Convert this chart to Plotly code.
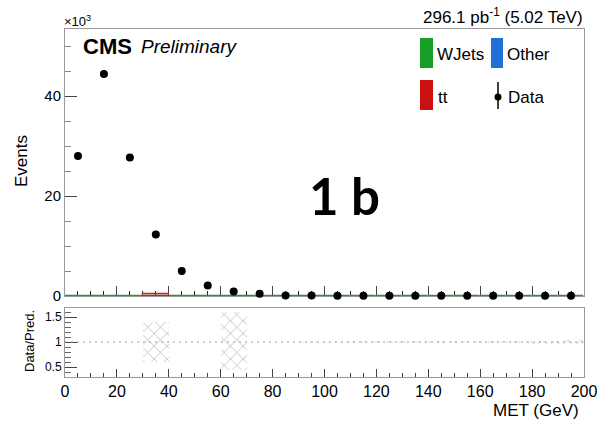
import plotly.graph_objects as go

W, H = 597, 426

# ---------------- data (values in units of 10^3 events) ----------------
bin_centers = [5, 15, 25, 35, 45, 55, 65, 75, 85, 95, 105, 115, 125, 135, 145, 155, 165, 175, 185, 195]
data_k = [28.0, 44.4, 27.7, 12.3, 5.0, 2.1, 0.9, 0.45, 0.12, 0.1, 0.05, 0.05, 0.05, 0.05, 0.05, 0.05, 0.05, 0.05, 0.05, 0.05]
wjets_k = [0.1] * 20
tt_k = [0, 0, 0, 0.35, 0, 0, 0, 0, 0, 0, 0, 0, 0, 0, 0, 0, 0, 0, 0, 0]
other_k = [0.0] * 20
ratio_center = [1.0] * 20
band_lo = [0.995, 0.995, 0.995, 0.6, 0.995, 0.995, 0.44, 0.995, 0.995, 0.99, 0.99, 0.988, 0.987, 0.985, 0.984, 0.982, 0.98, 0.975, 0.97, 0.96]
band_hi = [1.005, 1.005, 1.005, 1.4, 1.005, 1.005, 1.6, 1.005, 1.005, 1.01, 1.01, 1.012, 1.013, 1.015, 1.016, 1.018, 1.02, 1.025, 1.03, 1.04]
band_height = [h - l for h, l in zip(band_hi, band_lo)]

FONT = "Liberation Sans, Arial, sans-serif"


def px(x):
    return x / W


def py(y):
    return 1 - y / H


def nonzero(xs, ys):
    pairs = [(x, y) for x, y in zip(xs, ys) if y > 0]
    return [p[0] for p in pairs], [p[1] for p in pairs]


fig = go.Figure()

# stacked MC
fig.add_trace(go.Bar(x=bin_centers, y=wjets_k, width=10, marker=dict(color="#1a9e2a", line=dict(color="#1a9e2a", width=1.2)),
                     xaxis="x", yaxis="y", showlegend=False))
tt_x, tt_y = nonzero(bin_centers, tt_k)
tt_base = [wjets_k[bin_centers.index(x)] for x in tt_x]
fig.add_trace(go.Bar(x=tt_x, y=tt_y, base=tt_base, width=10,
                     marker=dict(color="rgba(210,30,30,0.15)", line=dict(color="#d21e1e", width=1.2)),
                     xaxis="x", yaxis="y", showlegend=False))
oth_x, oth_y = nonzero(bin_centers, other_k)
if oth_x:
    fig.add_trace(go.Bar(x=oth_x, y=oth_y, width=10, marker=dict(color="#1f6fd6", line=dict(width=0)),
                         xaxis="x", yaxis="y", showlegend=False))

# data
fig.add_trace(go.Scatter(x=bin_centers, y=data_k, mode="markers", marker=dict(color="black", size=8),
                         cliponaxis=False, xaxis="x", yaxis="y", showlegend=False))

# ratio panel
fig.add_trace(go.Scatter(x=[0] + bin_centers + [200], y=[1.0] + ratio_center + [1.0], mode="lines",
                         line=dict(color="#9a9a9a", width=1, dash="2px,4px"), xaxis="x2", yaxis="y2", showlegend=False))
fig.add_trace(go.Bar(x=bin_centers, y=band_height, base=band_lo, width=10,
                     marker=dict(color="rgba(0,0,0,0)", line=dict(width=0),
                                 pattern=dict(shape="x", fgcolor="#666666", bgcolor="rgba(0,0,0,0)", size=9, solidity=0.15)),
                     xaxis="x2", yaxis="y2", showlegend=False))

xdom = [px(65), px(584)]
axis_common = dict(showline=True, linecolor="#999999", linewidth=1, mirror=True, showgrid=False, zeroline=False,
                   ticks="inside", tickcolor="#444444", automargin=False, layer="below traces")

fig.update_layout(
    width=W, height=H, margin=dict(l=0, r=0, t=0, b=0, autoexpand=False),
    paper_bgcolor="white", plot_bgcolor="white",
    barmode="overlay", bargap=0,
    font=dict(family=FONT, color="black"),
    xaxis=dict(domain=xdom, anchor="y", range=[0, 200], dtick=20, ticklen=10, showticklabels=False,
               minor=dict(dtick=5, ticklen=5, ticks="inside", tickcolor="#222222"), **axis_common),
    yaxis=dict(domain=[py(296), py(29)], anchor="x", range=[0, 53.4], tickvals=[0, 20, 40], ticklen=12,
               tickfont=dict(size=15), minor=dict(dtick=5, ticklen=6, ticks="inside", tickcolor="#888888"), **axis_common),
    xaxis2=dict(domain=xdom, anchor="y2", range=[0, 200], dtick=20, ticklen=8, tickfont=dict(size=16),
                ticklabeloverflow="allow",
                minor=dict(dtick=5, ticklen=4, ticks="inside", tickcolor="#444444"), **axis_common),
    yaxis2=dict(domain=[py(377), py(308)], anchor="x2", range=[0.3, 1.68], tickvals=[0.5, 1, 1.5],
                ticktext=["0.5", "1", "1.5"], ticklen=12, tickfont=dict(size=12),
                minor=dict(dtick=0.1, ticklen=6, ticks="inside", tickcolor="#666666"), **axis_common),
)

ann = []


def add_text(text, x, y, size, xanchor="left", yanchor="middle", angle=0, family=FONT, color="black"):
    ann.append(dict(text=text, x=px(x), y=py(y), xref="paper", yref="paper", showarrow=False,
                    xanchor=xanchor, yanchor=yanchor, textangle=angle,
                    font=dict(size=size, family=family, color=color)))


add_text("Events", 21, 161, 17, xanchor="center", angle=-90)
add_text("Data/Pred.", 29, 341, 13, xanchor="center", angle=-90)
add_text("MET (GeV)", 581, 410, 17, xanchor="right")
add_text("×10<sup>3</sup>", 62, 21, 13)
add_text("<b>CMS</b>", 81, 46, 22)
add_text("<i>Preliminary</i>", 139, 46, 19)
add_text("296.1 pb<sup>-1</sup> (5.02 TeV)", 585, 16, 17, xanchor="right")
add_text("<b>1 b</b>", 345, 195, 51, xanchor="center", family="Lato, sans-serif")

# legend (drawn manually)
add_text("WJets", 435, 54, 17)
add_text("Other", 505, 54, 17)
add_text("tt", 436, 97, 17)
add_text("Data", 506, 97, 17)

shapes = [
    dict(type="rect", xref="paper", yref="paper", x0=px(420), x1=px(433), y0=py(68), y1=py(38),
         fillcolor="#1a9e2a", line=dict(width=0)),
    dict(type="rect", xref="paper", yref="paper", x0=px(491), x1=px(503), y0=py(68), y1=py(38),
         fillcolor="#1f6fd6", line=dict(width=0)),
    dict(type="rect", xref="paper", yref="paper", x0=px(420), x1=px(433), y0=py(110), y1=py(80),
         fillcolor="#cc1010", line=dict(width=0)),
    dict(type="line", xref="paper", yref="paper", x0=px(498), x1=px(498), y0=py(109), y1=py(82),
         line=dict(color="black", width=1.5)),
    dict(type="circle", xref="paper", yref="paper", x0=px(494.5), x1=px(501.5), y0=py(100.5), y1=py(93.5),
         fillcolor="black", line=dict(width=0)),
]

fig.update_layout(annotations=ann, shapes=shapes)
fig.write_html("out.html")
